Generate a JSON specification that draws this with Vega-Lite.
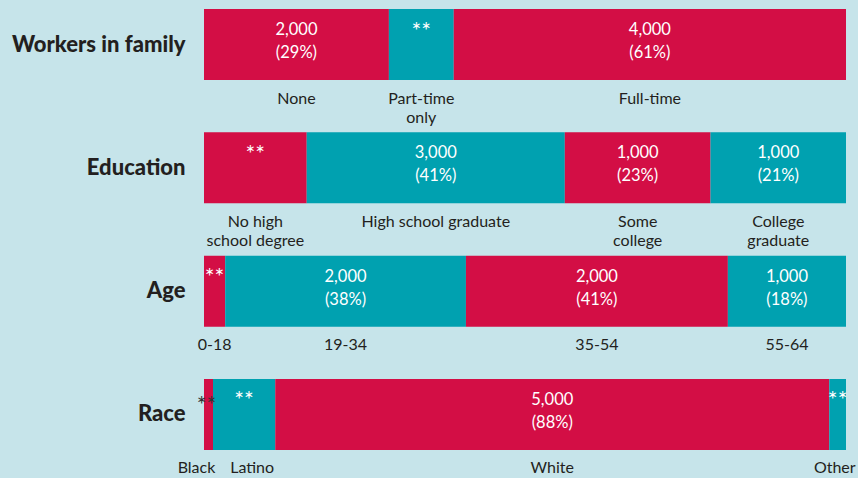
{
  "$schema": "https://vega.github.io/schema/vega-lite/v6.json",
  "width": 642,
  "height": 441,
  "autosize": {"type": "none"},
  "padding": {"left": 204, "top": 9, "right": 12, "bottom": 28},
  "background": "#c6e4ea",
  "config": {"view": {"stroke": null}, "font": "Lato"},
  "data": {
    "values": [
      {"group": "Workers in family", "idx": 1, "name": "None", "share": 0.288, "count": 2000, "pct": 29},
      {"group": "Workers in family", "idx": 2, "name": "Part-time\nonly", "share": 0.101, "count": null, "pct": null},
      {"group": "Workers in family", "idx": 3, "name": "Full-time", "share": 0.611, "count": 4000, "pct": 61},
      {"group": "Education", "idx": 1, "name": "No high\nschool degree", "share": 0.160, "count": null, "pct": null},
      {"group": "Education", "idx": 2, "name": "High school graduate", "share": 0.402, "count": 3000, "pct": 41},
      {"group": "Education", "idx": 3, "name": "Some\ncollege", "share": 0.227, "count": 1000, "pct": 23},
      {"group": "Education", "idx": 4, "name": "College\ngraduate", "share": 0.211, "count": 1000, "pct": 21},
      {"group": "Age", "idx": 1, "name": "0-18", "share": 0.033, "count": null, "pct": null},
      {"group": "Age", "idx": 2, "name": "19-34", "share": 0.375, "count": 2000, "pct": 38},
      {"group": "Age", "idx": 3, "name": "35-54", "share": 0.408, "count": 2000, "pct": 41},
      {"group": "Age", "idx": 4, "name": "55-64", "share": 0.184, "count": 1000, "pct": 18},
      {"group": "Race", "idx": 1, "name": "Black", "share": 0.014, "count": null, "pct": null},
      {"group": "Race", "idx": 2, "name": "Latino", "share": 0.097, "count": null, "pct": null},
      {"group": "Race", "idx": 3, "name": "White", "share": 0.863, "count": 5000, "pct": 88},
      {"group": "Race", "idx": 4, "name": "Other", "share": 0.026, "count": null, "pct": null}
    ]
  },
  "transform": [
    {"stack": "share", "groupby": ["group"], "sort": [{"field": "idx"}], "as": ["x0", "x1"]},
    {"calculate": "(datum.x0 + datum.x1) / 2", "as": "mid"},
    {"calculate": "datum.count == null ? '**' : format(datum.count, ',') + '\\n(' + datum.pct + '%)'", "as": "val"}
  ],
  "encoding": {
    "y": {
      "field": "group",
      "type": "nominal",
      "sort": ["Workers in family", "Education", "Age", "Race"],
      "scale": {"paddingInner": 0.4243, "paddingOuter": 0},
      "axis": {
        "title": null,
        "domain": false,
        "ticks": false,
        "labelFontSize": 22,
        "labelFontWeight": 900,
        "labelColor": "#231f20",
        "labelPadding": 19,
        "labelFont": "Lato"
      }
    }
  },
  "layer": [
    {
      "mark": {"type": "bar"},
      "encoding": {
        "x": {"field": "x0", "type": "quantitative", "scale": {"domain": [0, 1], "nice": false, "zero": false}, "axis": null},
        "x2": {"field": "x1"},
        "color": {"condition": {"test": "datum.idx % 2 == 1", "value": "#d30e45"}, "value": "#00a1b0"}
      }
    },
    {
      "transform": [{"filter": "datum.count != null"}],
      "mark": {"type": "text", "baseline": "middle", "align": "center", "dy": -14.5, "fontSize": 16.5, "lineHeight": 23, "lineBreak": "\n", "fill": "white"},
      "encoding": {
        "x": {"field": "mid", "type": "quantitative"},
        "text": {"field": "val"}
      }
    },
    {
      "transform": [{"filter": "datum.count == null && !(datum.group == 'Race' && datum.idx == 1)"}],
      "mark": {"type": "text", "baseline": "middle", "align": "center", "dy": -13, "fontSize": 23, "fill": "white"},
      "encoding": {
        "x": {"field": "mid", "type": "quantitative"},
        "text": {"field": "val"}
      }
    },
    {
      "transform": [{"filter": "datum.group == 'Race' && datum.idx == 1"}],
      "mark": {"type": "text", "baseline": "middle", "align": "center", "dy": -8, "dx": -2, "fontSize": 23, "fill": "#333333"},
      "encoding": {
        "x": {"field": "mid", "type": "quantitative"},
        "text": {"field": "val"}
      }
    },
    {
      "transform": [{"filter": "datum.name != 'Black' && datum.name != 'Latino' && datum.name != 'Other'"}],
      "mark": {"type": "text", "baseline": "top", "align": "center", "dy": 46, "fontSize": 16, "lineHeight": 19, "lineBreak": "\n", "fill": "#231f20"},
      "encoding": {
        "x": {"field": "mid", "type": "quantitative"},
        "text": {"field": "name"}
      }
    },
    {
      "transform": [{"filter": "datum.name == 'Black'"}],
      "mark": {"type": "text", "baseline": "top", "align": "center", "dy": 46, "dx": -12, "fontSize": 16, "fill": "#231f20"},
      "encoding": {
        "x": {"field": "mid", "type": "quantitative"},
        "text": {"field": "name"}
      }
    },
    {
      "transform": [{"filter": "datum.name == 'Latino'"}],
      "mark": {"type": "text", "baseline": "top", "align": "center", "dy": 46, "dx": 8, "fontSize": 16, "fill": "#231f20"},
      "encoding": {
        "x": {"field": "mid", "type": "quantitative"},
        "text": {"field": "name"}
      }
    },
    {
      "transform": [{"filter": "datum.name == 'Other'"}],
      "mark": {"type": "text", "baseline": "top", "align": "right", "dy": 46, "dx": 18, "fontSize": 16, "fill": "#231f20"},
      "encoding": {
        "x": {"field": "mid", "type": "quantitative"},
        "text": {"field": "name"}
      }
    }
  ]
}
